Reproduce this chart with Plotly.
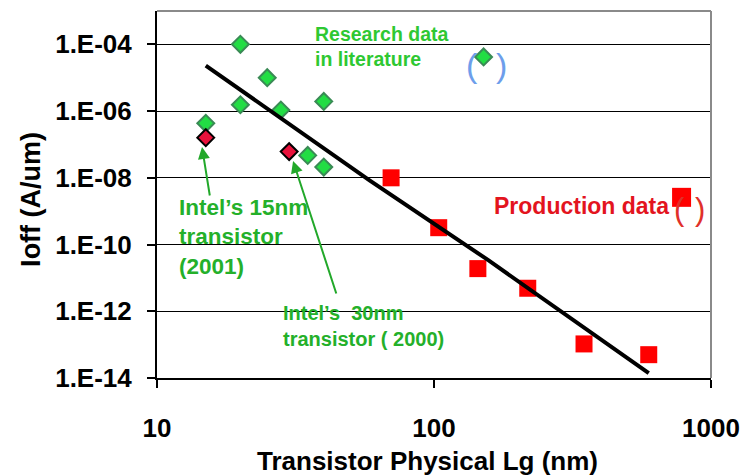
import plotly.graph_objects as go

# ---- data ----
research_lg = [20, 25, 20, 28, 40, 15, 35, 40]
research_ioff = [1e-4, 1e-5, 1.55e-6, 1.07e-6, 1.95e-6, 4.3e-7, 4.7e-8, 2.1e-8]

intel_lg = [15, 30]
intel_ioff = [1.6e-7, 6.1e-8]

prod_lg = [70, 104, 144, 218, 348, 596]
prod_ioff = [1.0e-8, 3.2e-10, 1.9e-11, 4.9e-12, 1.05e-13, 5e-14]

trend_lg = [15, 58.7, 157, 596]
trend_ioff = [2.3e-5, 8.3e-9, 3.4e-11, 1.4e-14]

key_research_lg = [151]
key_research_ioff = [4.2e-5]
key_prod_lg = [783]
key_prod_ioff = [2.6e-9]

y_tickvals = [1e-14, 1e-12, 1e-10, 1e-8, 1e-6, 1e-4]
y_ticktext = ["1.E-14", "1.E-12", "1.E-10", "1.E-08", "1.E-06", "1.E-04"]
x_tickvals = [10, 100, 1000]
x_ticktext = ["10", "100", "1000"]

FONT = "Liberation Sans, Arial, sans-serif"
GREEN_FILL = "#22dd44"
GREEN_EDGE = "#3a8a55"
TXT_GREEN = "#24b02a"
RED = "#ff0000"

fig = go.Figure()

fig.add_trace(go.Scatter(
    x=research_lg, y=research_ioff, mode="markers",
    marker=dict(symbol="diamond", size=13, color=GREEN_FILL,
                line=dict(color=GREEN_EDGE, width=2)),
    showlegend=False))
fig.add_trace(go.Scatter(
    x=key_research_lg, y=key_research_ioff, mode="markers",
    marker=dict(symbol="diamond", size=13, color=GREEN_FILL,
                line=dict(color=GREEN_EDGE, width=2)),
    showlegend=False))
fig.add_trace(go.Scatter(
    x=intel_lg, y=intel_ioff, mode="markers",
    marker=dict(symbol="diamond", size=13, color="#e8123c",
                line=dict(color="black", width=2)),
    showlegend=False))
fig.add_trace(go.Scatter(
    x=prod_lg, y=prod_ioff, mode="markers",
    marker=dict(symbol="square", size=17, color=RED, line=dict(width=0)),
    showlegend=False))
fig.add_trace(go.Scatter(
    x=key_prod_lg, y=key_prod_ioff, mode="markers",
    marker=dict(symbol="square", size=19, color=RED, line=dict(width=0)),
    showlegend=False))
fig.add_trace(go.Scatter(
    x=trend_lg, y=trend_ioff, mode="lines",
    line=dict(color="black", width=4),
    showlegend=False))

# plot-area geometry in pixels (for paper-coordinate helpers)
L, R, T, B = 157, 710.7, 10.8, 378.3
def px(x):
    return (x - L) / (R - L)
def py(y):
    return (B - y) / (B - T)

# white boxes behind text (mask gridlines, below traces)
masks = [(297, 25, 511, 85), (262, 295, 503, 340), (477, 200, 686, 252)]
shapes = []
for x0, y0, x1, y1 in masks:
    shapes.append(dict(type="rect", xref="paper", yref="paper",
                       x0=px(x0), x1=px(x1), y0=py(y1), y1=py(y0),
                       fillcolor="white", line=dict(width=0), layer="between"))
# gray top and right borders
shapes.append(dict(type="line", xref="paper", yref="paper", x0=0, x1=1, y0=1, y1=1,
                   line=dict(color="#8a8a8a", width=2)))
shapes.append(dict(type="line", xref="paper", yref="paper", x0=1, x1=1, y0=0, y1=1,
                   line=dict(color="#8a8a8a", width=2)))

ann = []
def text(t, x, y, size, color, xanchor="left", bold=True, angle=0):
    ann.append(dict(text=("<b>%s</b>" % t) if bold else t,
                    xref="paper", yref="paper", x=px(x), y=py(y),
                    xanchor=xanchor, yanchor="middle", showarrow=False, align="left",
                    textangle=angle,
                    font=dict(family=FONT, size=size, color=color)))

text("Research data<br>in literature", 312.7, 46.7, 19.5, "#2ec832")
text("Intel\u2019s 15nm<br>transistor<br>(2001)", 176.7, 237, 22.5, TXT_GREEN)
text("Intel\u2019s\u00a0 30nm<br>transistor ( 2000)", 280.7, 326.7, 20, TXT_GREEN)
text("Production data", 491.7, 205.7, 23, "#e3141e")
text("(", 472, 65, 34, "#6d9eeb", xanchor="center", bold=False)
text(")", 501, 65, 34, "#6d9eeb", xanchor="center", bold=False)
text("(", 679, 210, 31, "#e0302a", xanchor="center", bold=False)
text(")", 700, 210, 31, "#e0302a", xanchor="center", bold=False)
text("Transistor Physical Lg (nm)", 427.3, 461.7, 26, "black", xanchor="center")
text("Ioff (A/um)", 31, 199, 27, "black", xanchor="center", angle=-90)

# arrows
for tip, tail in [((202, 147), (210, 197)), ((293, 161), (336.7, 295))]:
    ann.append(dict(text="", xref="paper", yref="paper", x=px(tip[0]), y=py(tip[1]),
                    ax=tail[0] - tip[0], ay=tail[1] - tip[1], showarrow=True,
                    arrowhead=2, arrowsize=1.2, arrowwidth=2, arrowcolor="#22a82a",
                    standoff=0))

fig.update_layout(
    width=740, height=475,
    margin=dict(l=L, r=740 - R, t=T, b=475 - B, autoexpand=False),
    paper_bgcolor="white", plot_bgcolor="white",
    shapes=shapes, annotations=ann,
    xaxis=dict(type="log", range=[1, 3], tickvals=x_tickvals, ticktext=x_ticktext,
               automargin=False,
               showgrid=False, zeroline=False, showline=True, linecolor="black",
               linewidth=2, ticks="outside", ticklen=8, tickwidth=1.5, tickcolor="black",
               ticklabelstandoff=18,
               tickfont=dict(family=FONT, size=26, color="black", weight="bold")),
    yaxis=dict(type="log", range=[-14, -3], tickvals=y_tickvals, ticktext=y_ticktext,
               automargin=False,
               showgrid=True, gridcolor="black", gridwidth=1, zeroline=False,
               showline=True, linecolor="black", linewidth=2, ticks="outside",
               ticklen=8, tickwidth=1.5, tickcolor="black", ticklabelstandoff=10,
               tickfont=dict(family=FONT, size=26, color="black", weight="bold")),
)

fig.write_html("out.html", config={"displayModeBar": False},
               post_script="document.body.style.margin='0';document.body.style.padding='0';")
